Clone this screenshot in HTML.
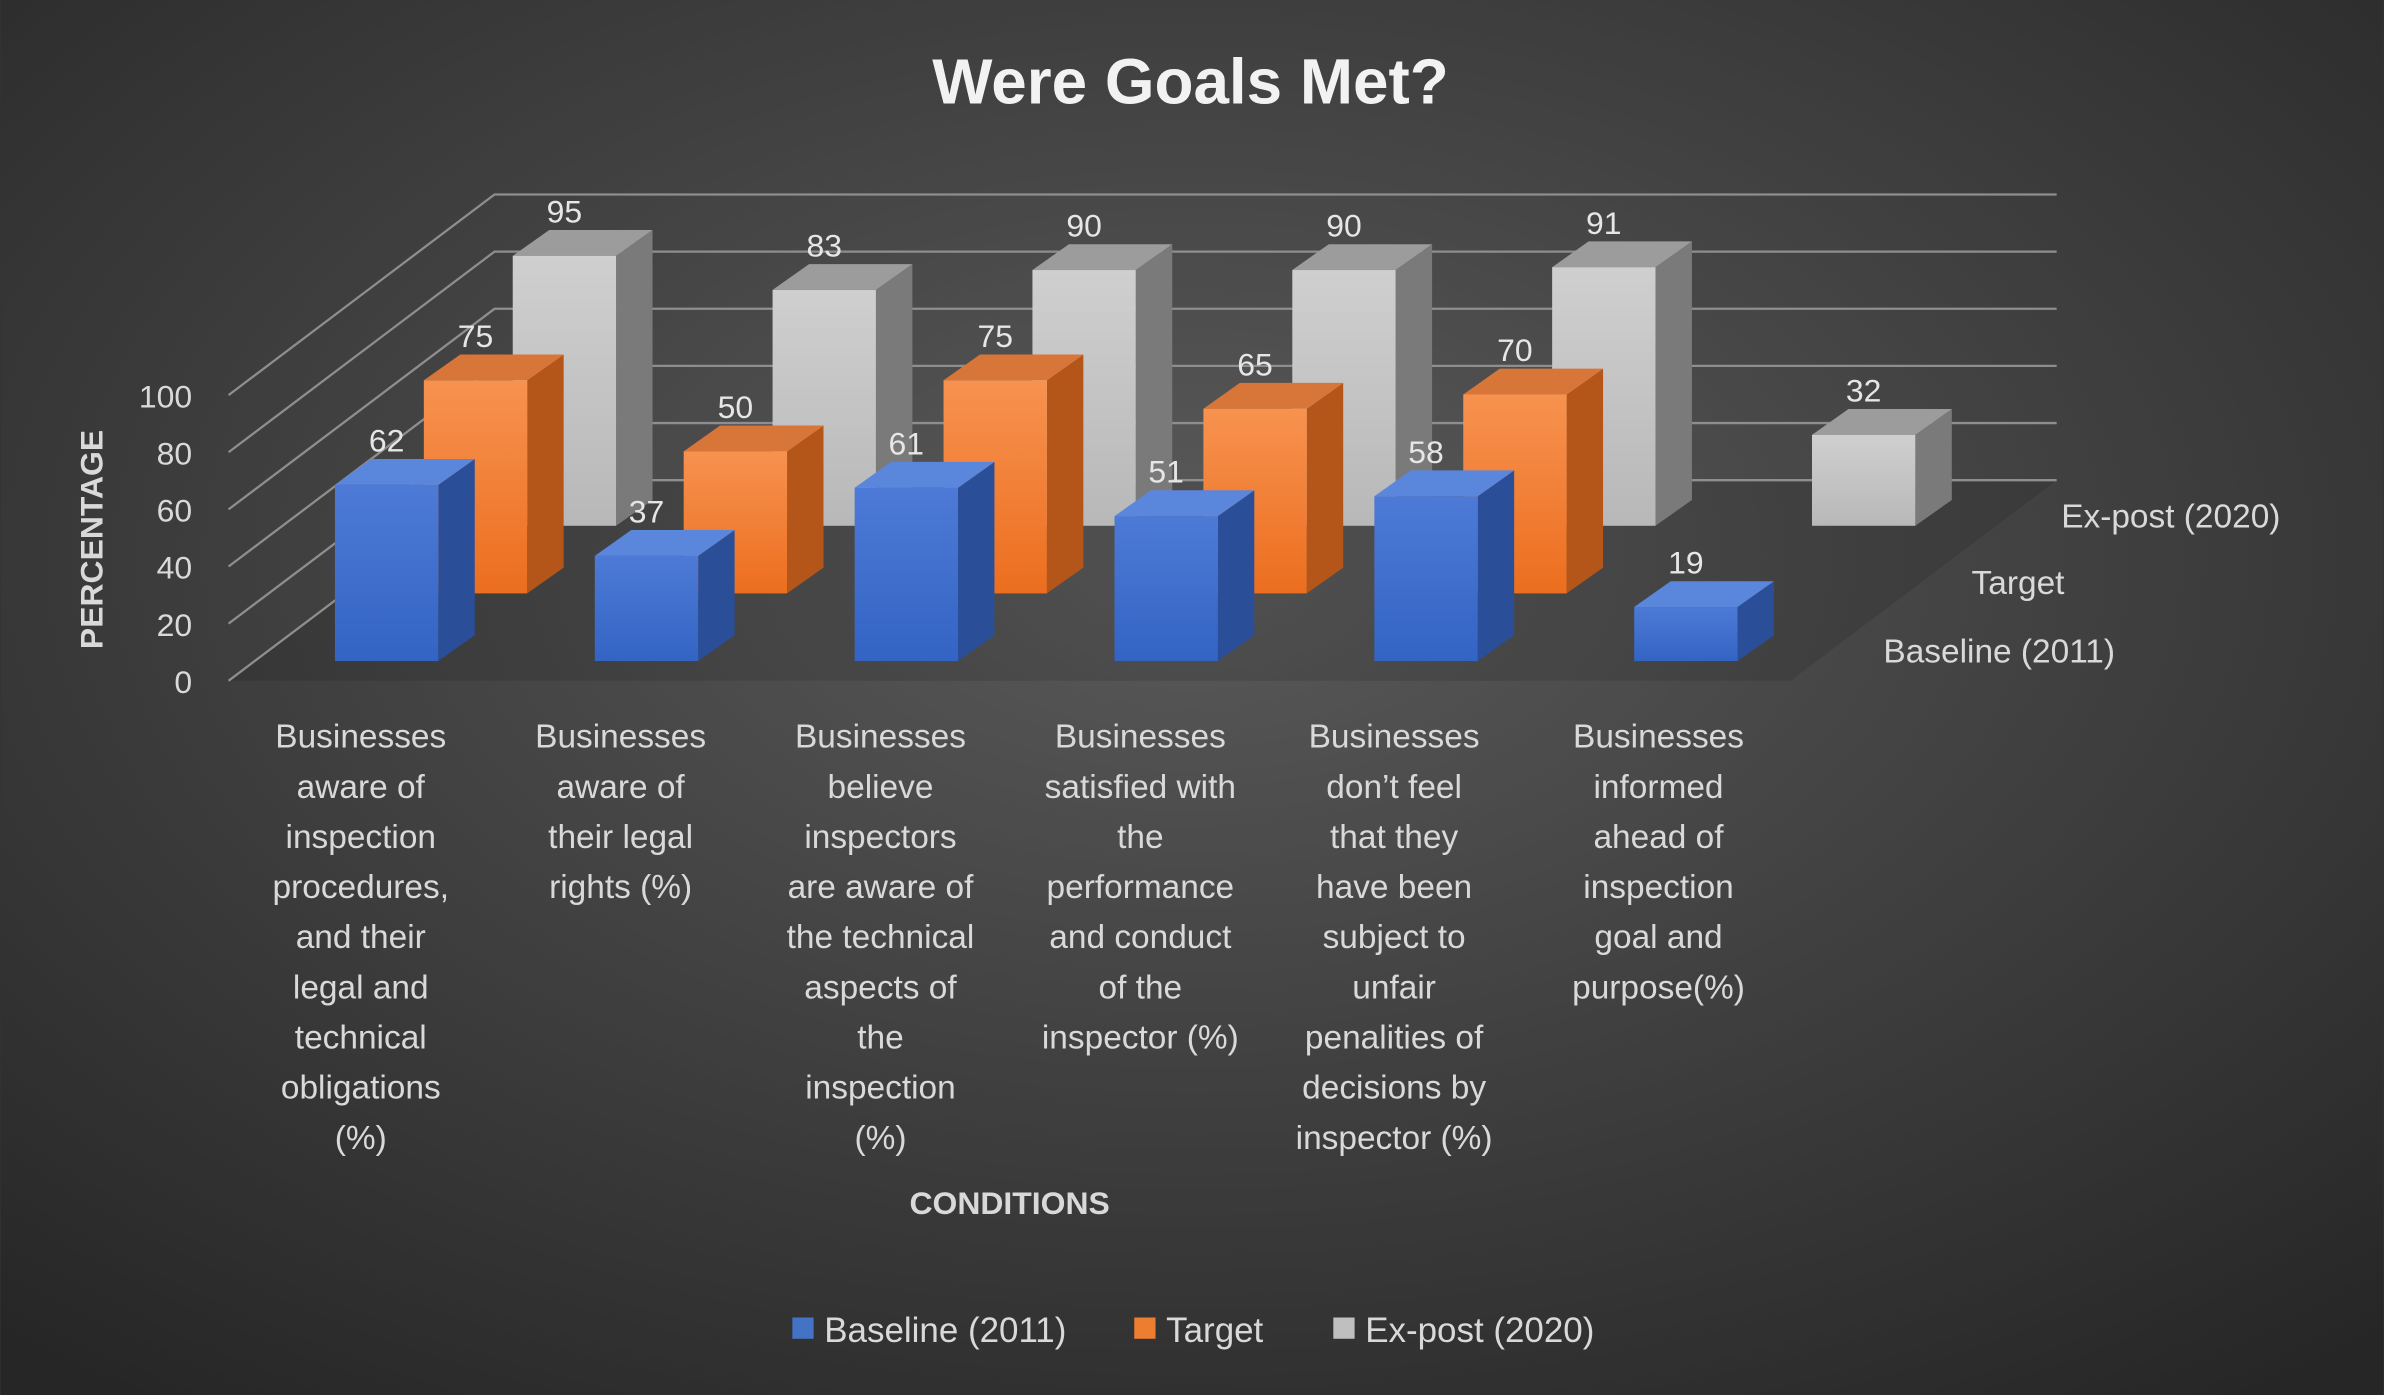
<!DOCTYPE html>
<html><head><meta charset="utf-8"><style>
html,body{margin:0;padding:0;background:#333;}
svg{display:block;font-family:"Liberation Sans","DejaVu Sans",sans-serif;}
</style></head><body>
<svg id="chart" width="2384" height="1395" viewBox="0 0 1568 918" xmlns="http://www.w3.org/2000/svg">
<defs>
<radialGradient id="bg" cx="50%" cy="40%" r="75%">
<stop offset="0" stop-color="#5a5a5a"/><stop offset="1" stop-color="#262626"/></radialGradient>
<linearGradient id="gB" x1="0" y1="0" x2="0" y2="1"><stop offset="0" stop-color="#4d7ad6"/><stop offset="1" stop-color="#3364c4"/></linearGradient>
<linearGradient id="gT" x1="0" y1="0" x2="0" y2="1"><stop offset="0" stop-color="#f7924f"/><stop offset="1" stop-color="#ec6e1f"/></linearGradient>
<linearGradient id="gE" x1="0" y1="0" x2="0" y2="1"><stop offset="0" stop-color="#cfcfcf"/><stop offset="1" stop-color="#b8b8b8"/></linearGradient>
</defs>
<rect width="1568" height="918" fill="url(#bg)"/>
<text x="783" y="68" text-anchor="middle" font-size="42" font-weight="bold" fill="#f2f2f2">Were Goals Met?</text>
<g id="grid"></g>
<g id="bars"></g>
<g id="labels"></g>
<text transform="translate(67,355) rotate(-90)" text-anchor="middle" font-size="21" font-weight="bold" fill="#d9d9d9">PERCENTAGE</text>
<text x="664" y="799" text-anchor="middle" font-size="21" font-weight="bold" fill="#d9d9d9">CONDITIONS</text>
<g font-size="23" fill="#d9d9d9">
<rect x="521" y="867" width="14" height="14" fill="#4472c4"/>
<text x="542" y="883">Baseline (2011)</text>
<rect x="746" y="867" width="14" height="14" fill="#ed7d31"/>
<text x="767" y="883">Target</text>
<rect x="877" y="867" width="14" height="14" fill="#bfbfbf"/>
<text x="898" y="883">Ex-post (2020)</text>
</g>
</svg>
<script>
const categories=[
["Businesses","aware of","inspection","procedures,","and their","legal and","technical","obligations","(%)"],
["Businesses","aware of","their legal","rights (%)"],
["Businesses","believe","inspectors","are aware of","the technical","aspects of","the","inspection","(%)"],
["Businesses","satisfied with","the","performance","and conduct","of the","inspector (%)"],
["Businesses","don’t feel","that they","have been","subject to","unfair","penalities of","decisions by","inspector (%)"],
["Businesses","informed","ahead of","inspection","goal and","purpose(%)"]];
const baseline=[62,37,61,51,58,19];
const target=[75,50,75,65,70,null];
const expost=[95,83,90,90,91,32];
const seriesNames=["Baseline (2011)","Target","Ex-post (2020)"];
const yTicks=[0,20,40,60,80,100];

const NS="http://www.w3.org/2000/svg";
const X0=220,STEP=171,BW=68,DX=24,DY=17,RDX=58.5,RDY=44.5,Y0=435,SCALE=1.87;
function xPos(i,row){return X0+i*STEP+row*RDX;}
function yBase(row){return Y0-row*RDY;}
function hgt(v){return v*SCALE;}
function mk(tag,attrs,parent){const e=document.createElementNS(NS,tag);for(const k in attrs)e.setAttribute(k,attrs[k]);parent.appendChild(e);return e;}
const grid=document.getElementById('grid'),bars=document.getElementById('bars'),labels=document.getElementById('labels');
const fl=mk('polygon',{points:"150,448 325,316 1353,316 1178,448",fill:"#000","fill-opacity":"0.1"},grid);


yTicks.forEach(t=>{
  const y=448-t*1.88;
  const l=mk('polyline',{points:`150,${y} 325,${y-132} 1353,${y-132}`,fill:"none",stroke:"#8e8e8e","stroke-width":"1.5"},grid);
  
  
  const tx=mk('text',{x:126,y:y+8,"text-anchor":"end","font-size":"21",fill:"#d9d9d9"},labels);
  tx.textContent=t;
  
  
});
const fills=[["url(#gB)","#2a4f98","#5a86dc"],["url(#gT)","#b4561a","#d8763a"],["url(#gE)","#7a7a7a","#9c9c9c"]];
function bar(i,row,v,nm){
  if(v==null)return;
  const x=xPos(i,row),yb=yBase(row),yt=yb-hgt(v);
  const g=mk('g',{},bars);
  
  
  mk('polygon',{points:`${x+BW},${yt} ${x+BW+DX},${yt-DY} ${x+BW+DX},${yb-DY} ${x+BW},${yb}`,fill:fills[row][1]},g);
  mk('polygon',{points:`${x},${yt} ${x+DX},${yt-DY} ${x+BW+DX},${yt-DY} ${x+BW},${yt}`,fill:fills[row][2]},g);
  mk('rect',{x:x,y:yt,width:BW,height:yb-yt,fill:fills[row][0]},g);
  const t=mk('text',{x:x+BW/2,y:yt-22,"text-anchor":"middle","font-size":"21",fill:"#e6e6e6"},labels);
  t.textContent=v;
  
  
}
for(let i=0;i<6;i++)bar(i,2,expost[i],'expost');
for(let i=0;i<6;i++)bar(i,1,target[i],'target');
for(let i=0;i<6;i++)bar(i,0,baseline[i],'baseline');
const centers=[237,408,579,750,917,1091];
categories.forEach((lines,i)=>{
  const t=mk('text',{"text-anchor":"middle","font-size":"22",fill:"#d9d9d9"},labels);
  
  
  lines.forEach((s,j)=>{const ts=mk('tspan',{x:centers[i],y:492+j*33},t);ts.textContent=s;});
});
const rowPos=[[1239,436],[1297,391],[1356,347]];
seriesNames.forEach((s,r)=>{
  const t=mk('text',{x:rowPos[r][0],y:rowPos[r][1],"font-size":"22",fill:"#d9d9d9"},labels);
  t.textContent=s;
  
  
});
</script>
</body></html>
